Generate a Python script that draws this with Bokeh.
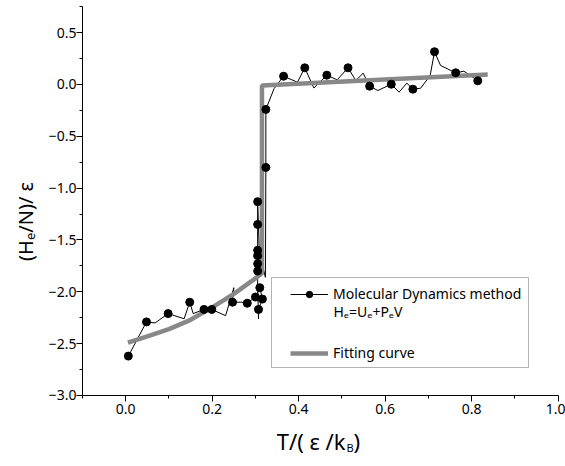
from bokeh.plotting import figure
from bokeh.models import (Range1d, FixedTicker, CustomJSTickFormatter, Label,
                          Legend, LegendItem, BoxAnnotation)
from bokeh.embed import file_html
from bokeh.resources import INLINE

# Molecular dynamics data (full polyline) and which vertices carry a marker
md_T = [0.006, 0.048, 0.068, 0.098, 0.135, 0.148, 0.156, 0.181, 0.199, 0.231,
        0.250, 0.247, 0.268, 0.281,
        0.300, 0.310, 0.316, 0.307, 0.307, 0.305, 0.305, 0.305, 0.305, 0.305,
        0.305, 0.305, 0.309, 0.323, 0.324, 0.324, 0.343, 0.365,
        0.397, 0.414, 0.435, 0.465, 0.489, 0.514, 0.532, 0.549, 0.564, 0.583,
        0.614, 0.632, 0.650, 0.664, 0.682, 0.704, 0.714, 0.728, 0.763, 0.782,
        0.794, 0.814]
md_H = [-2.62, -2.29, -2.30, -2.21, -2.26, -2.10, -2.21, -2.17, -2.17, -2.23,
        -1.96, -2.10, -2.10, -2.11,
        -2.05, -1.96, -2.07, -2.17, -2.26, -1.93, -1.80, -1.73, -1.65, -1.60,
        -1.35, -1.13, -1.62, -1.86, -0.80, -0.24, -0.04, 0.08,
        0.022, 0.161, -0.034, 0.090, 0.045, 0.161, 0.039, 0.109, -0.016, -0.058,
        0.003, -0.074, 0.013, -0.045, -0.036, 0.087, 0.316, 0.183, 0.113, 0.128,
        0.094, 0.036]
md_marker = [1, 1, 0, 1, 0, 1, 0, 1, 1, 0,
             0, 1, 0, 1,
             1, 1, 1, 1, 0, 0, 1, 1, 1, 1,
             1, 1, 0, 0, 1, 1, 0, 1,
             0, 1, 0, 1, 0, 1, 0, 0, 1, 0,
             1, 0, 0, 1, 0, 0, 1, 0, 1, 0,
             0, 1]

# Fitting curve
fit_T = [0.005, 0.05, 0.10, 0.15, 0.20, 0.25, 0.30, 0.315, 0.315, 0.837]
fit_H = [-2.49, -2.43, -2.36, -2.27, -2.15, -2.02, -1.87, -1.82, -0.01, 0.097]

x_ticks = [0.0, 0.2, 0.4, 0.6, 0.8, 1.0]
x_minor = [-0.1, 0.1, 0.3, 0.5, 0.7, 0.9]
y_ticks = [-3.0, -2.5, -2.0, -1.5, -1.0, -0.5, 0.0, 0.5]
y_minor = [-2.75, -2.25, -1.75, -1.25, -0.75, -0.25, 0.25, 0.75]
x_bounds = (-0.1, 1.0)
y_bounds = (-3.0, 0.75)

FONT = "Noto Sans"

W, H = 565, 466
p = figure(width=W, height=H, output_backend="svg", toolbar_location=None,
           x_range=Range1d(-0.2896, 1.0169), y_range=Range1d(-3.685, 0.8103),
           min_border=0)
p.outline_line_color = None
p.grid.visible = False
p.background_fill_color = "white"
p.border_fill_color = "white"

for ax in (p.xaxis[0], p.yaxis[0]):
    ax.axis_line_color = "black"
    ax.axis_line_width = 1
    ax.major_tick_line_color = "black"
    ax.minor_tick_line_color = "black"
    ax.major_tick_in = 0
    ax.major_tick_out = 6
    ax.minor_tick_in = 0
    ax.minor_tick_out = 3
    ax.major_label_text_font = FONT
    ax.major_label_text_font_size = "14px"
    ax.major_label_text_color = "black"
    ax.formatter = CustomJSTickFormatter(code="return tick.toFixed(1).replace('-', '\u2212');")

p.xaxis[0].ticker = FixedTicker(ticks=x_ticks, minor_ticks=x_minor)
p.yaxis[0].ticker = FixedTicker(ticks=y_ticks, minor_ticks=y_minor)
p.xaxis[0].bounds = x_bounds
p.yaxis[0].bounds = y_bounds
p.xaxis[0].fixed_location = y_bounds[0]
p.yaxis[0].fixed_location = x_bounds[0]
p.xaxis[0].major_label_standoff = 3
p.yaxis[0].major_label_standoff = 0

mk_T = [t for t, m in zip(md_T, md_marker) if m]
mk_H = [h for h, m in zip(md_H, md_marker) if m]

r_line = p.line(md_T, md_H, line_color="black", line_width=1)
r_fit = p.line(fit_T, fit_H, line_color="#888888", line_width=4.5)
r_pts = p.scatter(mk_T, mk_H, size=8, fill_color="black", line_color="black")

# legend frame (screen px measured from bottom-left of the plot area)
p.add_layout(BoxAnnotation(left=271, right=528, bottom=H - 367, top=H - 277,
                           left_units="screen", right_units="screen",
                           bottom_units="screen", top_units="screen",
                           fill_color="white", fill_alpha=1.0,
                           line_color="black", line_width=1, level="overlay"))

legend = Legend(items=[LegendItem(label="Molecular Dynamics method", renderers=[r_line, r_pts]),
                       LegendItem(label="Fitting curve", renderers=[r_fit])],
                location=(290, H - 362), padding=0, spacing=40, margin=0,
                glyph_width=38, glyph_height=16, label_height=16,
                label_standoff=5, border_line_color=None,
                background_fill_alpha=0.0,
                label_text_font=FONT, label_text_font_size="14px",
                label_text_color="black")
p.add_layout(legend)

p.add_layout(Label(x=333, y=H - 311, x_units="screen", y_units="screen",
                   text="H\u2091=U\u2091+P\u2091V", text_font=FONT,
                   text_font_size="14px", text_baseline="middle",
                   text_color="black", level="overlay"))

# axis titles
p.add_layout(Label(x=25, y=H - 221, x_units="screen", y_units="screen",
                   text="(H\u2091/N)/ \u03b5", angle=1.5708, text_font=FONT,
                   text_font_size="20px", text_align="center",
                   text_baseline="middle", text_color="black"))
p.add_layout(Label(x=345, y=H - 440, x_units="screen", y_units="screen",
                   text="T/( \u03b5 /k", text_font=FONT, text_font_size="22px",
                   text_align="right", text_baseline="alphabetic",
                   text_color="black"))
p.add_layout(Label(x=346, y=H - 447, x_units="screen", y_units="screen",
                   text="B", text_font=FONT, text_font_size="11px",
                   text_align="left", text_baseline="alphabetic",
                   text_color="black"))
p.add_layout(Label(x=353, y=H - 440, x_units="screen", y_units="screen",
                   text=")", text_font=FONT, text_font_size="22px",
                   text_align="left", text_baseline="alphabetic",
                   text_color="black"))

open("out.html", "w").write(file_html(p, INLINE))
